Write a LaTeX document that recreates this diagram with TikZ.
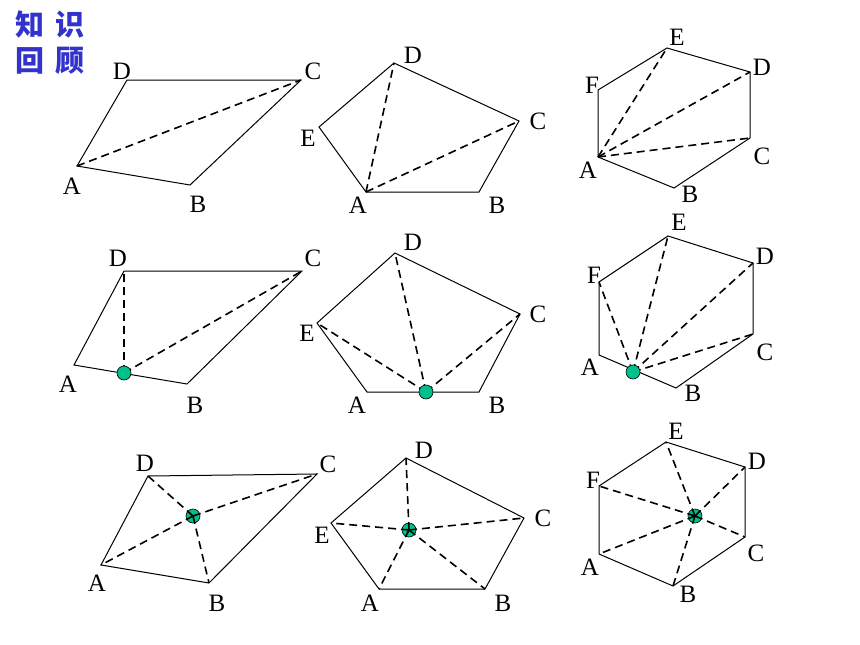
\documentclass[tikz,border=0pt]{standalone}
\usepackage{fontspec}
\setmainfont{Liberation Serif}
\newfontfamily\cjk{Noto Sans CJK SC}
\definecolor{titleblue}{RGB}{51,51,204}
\definecolor{dotgreen}{RGB}{0,192,140}
\tikzset{
  side/.style={line width=1pt},
  diag/.style={line width=1.6pt,dash pattern=on 8pt off 5pt},
  lbl/.style={inner sep=0pt,font=\fontsize{25}{30}\selectfont},
  ttl/.style={inner sep=0pt,text=titleblue,font=\cjk\bfseries\fontsize{29}{32}\selectfont},
  pt/.style={circle,draw=black,line width=0.6pt,fill=dotgreen,minimum size=14pt,inner sep=0pt}
}
\begin{document}
\begin{tikzpicture}[x=1pt,y=-1pt]
  \useasboundingbox (0,0) rectangle (860,645);
  \node[ttl] (t1) at (50,24) {知\hspace{11pt}识};
  \node[ttl] (t2) at (50,61) {回\hspace{11pt}顾};

  % row 1: quadrilateral
  \draw
    (77,166) coordinate (a1)
    (190,185) coordinate (b1)
    (301,80) coordinate (c1)
    (127,80) coordinate (d1);
  \draw[side] (a1) -- (b1) -- (c1) -- (d1) -- cycle;
  \draw[diag] (a1) -- (c1);
  \node[lbl] (la1) at (72,186) {A};
  \node[lbl] (lb1) at (198,204) {B};
  \node[lbl] (lc1) at (313,71) {C};
  \node[lbl] (ld1) at (122,71) {D};

  % row 1: pentagon
  \draw
    (366,192) coordinate (a2)
    (479,192) coordinate (b2)
    (519,121) coordinate (c2)
    (394,63) coordinate (d2)
    (319,127) coordinate (e2);
  \draw[side] (a2) -- (b2) -- (c2) -- (d2) -- (e2) -- cycle;
  \draw[diag] (a2) -- (d2);
  \draw[diag] (a2) -- (c2);
  \node[lbl] (la2) at (358,205) {A};
  \node[lbl] (lb2) at (497,205) {B};
  \node[lbl] (lc2) at (538,121) {C};
  \node[lbl] (ld2) at (413,55) {D};
  \node[lbl] (le2) at (308,138) {E};

  % row 1: hexagon
  \draw
    (598,157) coordinate (a3)
    (674,188) coordinate (b3)
    (750,138) coordinate (c3)
    (750,72) coordinate (d3)
    (667,48) coordinate (e3)
    (598,90) coordinate (f3);
  \draw[side] (a3) -- (b3) -- (c3) -- (d3) -- (e3) -- (f3) -- cycle;
  \draw[diag] (a3) -- (e3);
  \draw[diag] (a3) -- (d3);
  \draw[diag] (a3) -- (c3);
  \node[lbl] (la3) at (588,170) {A};
  \node[lbl] (lb3) at (690,194) {B};
  \node[lbl] (lc3) at (762,156) {C};
  \node[lbl] (ld3) at (762,67) {D};
  \node[lbl] (le3) at (677,37) {E};
  \node[lbl] (lf3) at (592,85) {F};

  % row 2: quadrilateral, point on AB
  \draw
    (74,365) coordinate (a4)
    (187,384) coordinate (b4)
    (302,271) coordinate (c4)
    (124,271) coordinate (d4)
    (124,373) coordinate (p4);
  \draw[side] (a4) -- (b4) -- (c4) -- (d4) -- cycle;
  \draw[diag] (p4) -- (d4);
  \draw[diag] (p4) -- (c4);
  \node[pt] (dot4) at (p4) {};
  \node[lbl] (la4) at (68,384) {A};
  \node[lbl] (lb4) at (195,405) {B};
  \node[lbl] (lc4) at (313,258) {C};
  \node[lbl] (ld4) at (118,258) {D};

  % row 2: pentagon, point on AB
  \draw
    (367,392) coordinate (a5)
    (479,392) coordinate (b5)
    (520,314) coordinate (c5)
    (395,253) coordinate (d5)
    (317,323) coordinate (e5)
    (426,392) coordinate (p5);
  \draw[side] (a5) -- (b5) -- (c5) -- (d5) -- (e5) -- cycle;
  \draw[diag] (p5) -- (e5);
  \draw[diag] (p5) -- (d5);
  \draw[diag] (p5) -- (c5);
  \node[pt] (dot5) at (p5) {};
  \node[lbl] (la5) at (357,405) {A};
  \node[lbl] (lb5) at (497,405) {B};
  \node[lbl] (lc5) at (538,314) {C};
  \node[lbl] (ld5) at (413,242) {D};
  \node[lbl] (le5) at (307,333) {E};

  % row 2: hexagon, point on AB
  \draw
    (599,355) coordinate (a6)
    (676,388) coordinate (b6)
    (753,334) coordinate (c6)
    (753,263) coordinate (d6)
    (668,236) coordinate (e6)
    (599,282) coordinate (f6)
    (633,372) coordinate (p6);
  \draw[side] (a6) -- (b6) -- (c6) -- (d6) -- (e6) -- (f6) -- cycle;
  \draw[diag] (p6) -- (f6);
  \draw[diag] (p6) -- (e6);
  \draw[diag] (p6) -- (d6);
  \draw[diag] (p6) -- (c6);
  \node[pt] (dot6) at (p6) {};
  \node[lbl] (la6) at (590,367) {A};
  \node[lbl] (lb6) at (693,393) {B};
  \node[lbl] (lc6) at (765,352) {C};
  \node[lbl] (ld6) at (765,256) {D};
  \node[lbl] (le6) at (679,222) {E};
  \node[lbl] (lf6) at (594,275) {F};

  % row 3: quadrilateral, point inside
  \draw
    (101,565) coordinate (a7)
    (209,583) coordinate (b7)
    (317,474) coordinate (c7)
    (148,476) coordinate (d7)
    (193,516) coordinate (p7);
  \draw[side] (a7) -- (b7) -- (c7) -- (d7) -- cycle;
  \node[pt] (dot7) at (p7) {};
  \draw[diag] (p7) -- (a7);
  \draw[diag] (p7) -- (b7);
  \draw[diag] (p7) -- (c7);
  \draw[diag] (p7) -- (d7);
  \node[lbl] (la7) at (97,583) {A};
  \node[lbl] (lb7) at (217,603) {B};
  \node[lbl] (lc7) at (328,464) {C};
  \node[lbl] (ld7) at (145,463) {D};

  % row 3: pentagon, point inside
  \draw
    (379,589) coordinate (a8)
    (485,589) coordinate (b8)
    (524,518) coordinate (c8)
    (406,458) coordinate (d8)
    (331,523) coordinate (e8)
    (409,530) coordinate (p8);
  \draw[side] (a8) -- (b8) -- (c8) -- (d8) -- (e8) -- cycle;
  \node[pt] (dot8) at (p8) {};
  \draw[diag] (p8) -- (a8);
  \draw[diag] (p8) -- (b8);
  \draw[diag] (p8) -- (c8);
  \draw[diag] (p8) -- (d8);
  \draw[diag] (p8) -- (e8);
  \node[lbl] (la8) at (370,603) {A};
  \node[lbl] (lb8) at (503,603) {B};
  \node[lbl] (lc8) at (543,518) {C};
  \node[lbl] (ld8) at (424,450) {D};
  \node[lbl] (le8) at (322,535) {E};

  % row 3: hexagon, point inside
  \draw
    (599,554) coordinate (a9)
    (673,586) coordinate (b9)
    (745,537) coordinate (c9)
    (745,467) coordinate (d9)
    (666,442) coordinate (e9)
    (599,486) coordinate (f9)
    (695,516) coordinate (p9);
  \draw[side] (a9) -- (b9) -- (c9) -- (d9) -- (e9) -- (f9) -- cycle;
  \node[pt] (dot9) at (p9) {};
  \draw[diag] (p9) -- (a9);
  \draw[diag] (p9) -- (b9);
  \draw[diag] (p9) -- (c9);
  \draw[diag] (p9) -- (d9);
  \draw[diag] (p9) -- (e9);
  \draw[diag] (p9) -- (f9);
  \node[lbl] (la9) at (590,567) {A};
  \node[lbl] (lb9) at (688,594) {B};
  \node[lbl] (lc9) at (756,553) {C};
  \node[lbl] (ld9) at (757,461) {D};
  \node[lbl] (le9) at (676,431) {E};
  \node[lbl] (lf9) at (593,480) {F};
\end{tikzpicture}
\end{document}
